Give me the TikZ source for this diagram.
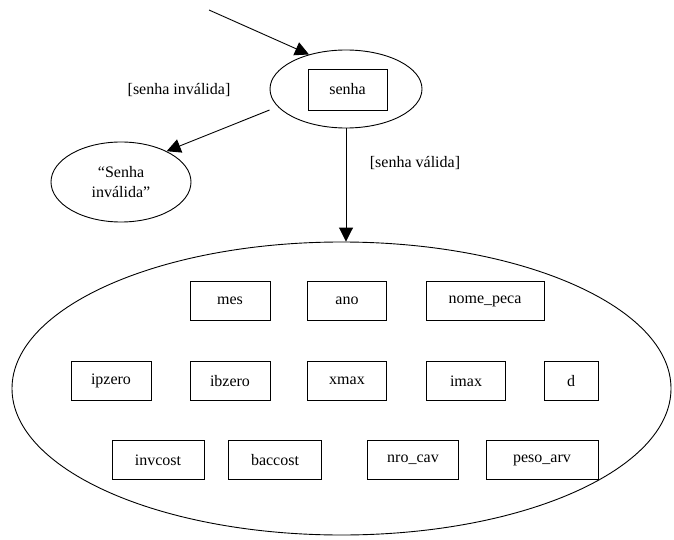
\documentclass[tikz,border=0pt]{standalone}
\usepackage{fontspec}
\setmainfont{Liberation Serif}
\usetikzlibrary{shapes.geometric,arrows.meta}
\begin{document}
\begin{tikzpicture}[x=1pt,y=-1pt,
  font=\fontsize{16}{20}\selectfont,
  line width=0.9pt,
  oval/.style={draw,ellipse,inner sep=0pt},
  field/.style={draw,rectangle,inner sep=0pt,minimum height=39pt},
  flow/.style={-{Triangle[length=14pt,width=14pt]}},
  guard/.style={inner sep=0pt}]
\useasboundingbox (0,0) rectangle (674,540);

% login state
\node[oval,minimum width=152pt,minimum height=78pt] (senhaE) at (346,89) {};
\node[field,minimum width=79pt,minimum height=41pt] (senha) at (347.5,89.5) {senha};

% error state
\node[oval,minimum width=140pt,minimum height=80pt,align=center] (invE) at (121,182)
  {“Senha\\inválida”};

% data entry state
\node[oval,minimum width=659pt,minimum height=293pt] (bigE) at (341.5,388.5) {};

% fields, row 1
\node[field,minimum width=80pt] (mes) at (230,301) {mes};
\node[field,minimum width=79pt] (ano) at (347,301) {ano};
\node[field,minimum width=118pt] (nome) at (485,301) {nome\_peca};
% fields, row 2
\node[field,minimum width=80pt] (ipzero) at (111,381) {ipzero};
\node[field,minimum width=80pt] (ibzero) at (230,381) {ibzero};
\node[field,minimum width=79pt] (xmax) at (347,381) {xmax};
\node[field,minimum width=79pt] (imax) at (466,381) {imax};
\node[field,minimum width=54pt] (d) at (571,381) {d};
% fields, row 3
\node[field,minimum width=92pt] (invcost) at (158,460) {invcost};
\node[field,minimum width=93pt] (baccost) at (275,460) {baccost};
\node[field,minimum width=91pt] (nrocav) at (413,460) {nro\_cav};
\node[field,minimum width=112pt] (pesoarv) at (542,460) {peso\_arv};

% guard labels
\node[guard] (gInv) at (179,90) {[senha inválida]};
\node[guard] (gVal) at (415,163) {[senha válida]};

% transitions
\coordinate (start) at (209,10);
\draw[flow] (start) -- (senhaE.137);
\draw[flow] ([yshift=-21pt]senhaE.west) -- (invE.34);
\draw[flow] (senhaE.south) -- (senhaE.south |- bigE.north);
\end{tikzpicture}
\end{document}
